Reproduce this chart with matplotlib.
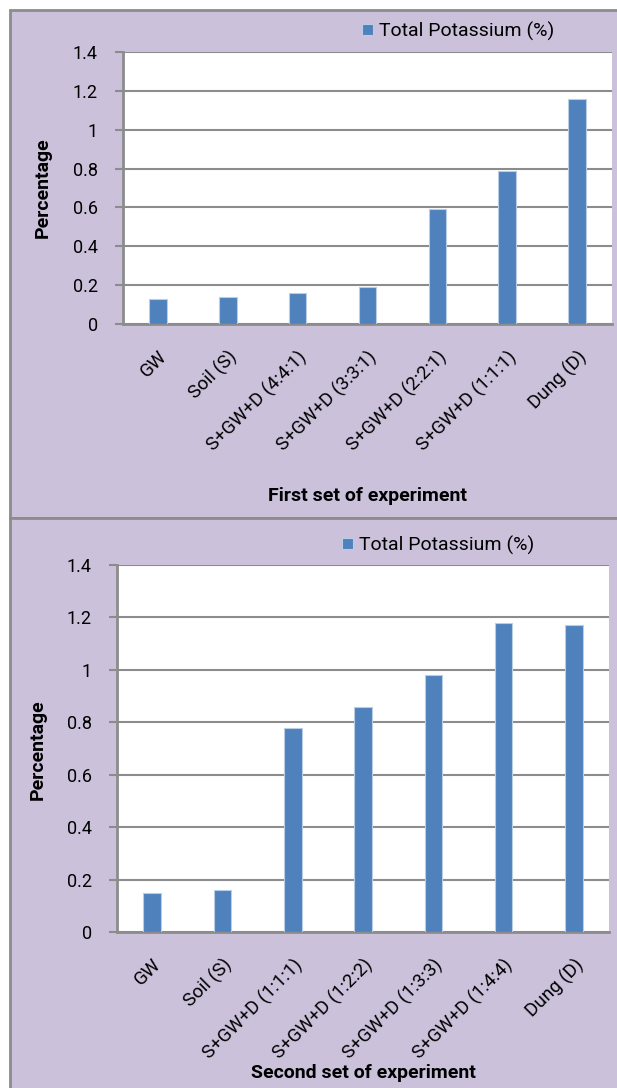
import matplotlib
matplotlib.use('Agg')
import matplotlib.pyplot as plt
from matplotlib.patches import Rectangle

plt.rcParams['font.family'] = ['Roboto', 'DejaVu Sans']

# данные первого и второго набора эксперимента
labels_first = ['GW', 'Soil (S)', 'S+GW+D (4:4:1)', 'S+GW+D (3:3:1)',
                'S+GW+D (2:2:1)', 'S+GW+D (1:1:1)', 'Dung (D)']
potassium_first = [0.13, 0.14, 0.16, 0.19, 0.59, 0.79, 1.16]

labels_second = ['GW', 'Soil (S)', 'S+GW+D (1:1:1)', 'S+GW+D (1:2:2)',
                 'S+GW+D (1:3:3)', 'S+GW+D (1:4:4)', 'Dung (D)']
potassium_second = [0.15, 0.16, 0.78, 0.86, 0.98, 1.18, 1.17]

yticks = [0, 0.2, 0.4, 0.6, 0.8, 1, 1.2, 1.4]
ytick_labels = ['0', '0.2', '0.4', '0.6', '0.8', '1', '1.2', '1.4']

W, H = 617, 1088
BG = '#cbc1db'
GREY = '#8c8c8c'
BAR = '#4f81bd'

fig = plt.figure(figsize=(W / 100, H / 100), dpi=100)


def px_box(left, top, right, bottom):
    """Прямоугольник в пикселях -> координаты фигуры"""
    return [left / W, 1 - bottom / H, (right - left) / W, (bottom - top) / H]


# фоновые панели
for top, bottom in [(10, 518), (518, 1095)]:
    l, b, w, h = px_box(10, top, 625, bottom)
    fig.patches.append(Rectangle((l, b), w, h, transform=fig.transFigure,
                                 facecolor=BG, edgecolor=GREY, linewidth=2,
                                 zorder=-1))


def draw_panel(box, labels, values, xlabel, legend_xy, ylabel_xy, xlabel_y):
    ax = fig.add_axes(px_box(*box))
    ax.set_zorder(2)
    x = range(len(labels))
    ax.bar(x, values, width=0.25, color=BAR, edgecolor='#b9cde5',
           linewidth=0.8, zorder=3, label='Total Potassium (%)')
    ax.set_xlim(-0.5, len(labels) - 0.5)
    ax.set_ylim(0, 1.4)
    ax.set_yticks(yticks)
    ax.set_yticklabels(ytick_labels, fontsize=13)
    ax.set_xticks(list(x))
    ax.set_xticklabels(labels, rotation=45, ha='right', va='top',
                       rotation_mode='anchor', fontsize=13.5)
    ax.tick_params(axis='x', length=0, pad=17)
    ax.tick_params(axis='y', length=6, width=1.5, color=GREY, pad=12)
    ax.grid(axis='y', color=GREY, linewidth=1.5, zorder=1)
    for side in ['top', 'right']:
        ax.spines[side].set_visible(False)
    for side in ['left', 'bottom']:
        ax.spines[side].set_color(GREY)
        ax.spines[side].set_linewidth(2)
    ax.set_facecolor('white')

    fig.legend(handles=ax.patches[:1], labels=['Total Potassium (%)'],
               loc='center left',
               bbox_to_anchor=(legend_xy[0] / W, 1 - legend_xy[1] / H),
               frameon=False, fontsize=14, handlelength=0.55,
               handleheight=0.55, handletextpad=0.3, borderpad=0,
               borderaxespad=0)
    fig.text(ylabel_xy[0] / W, 1 - ylabel_xy[1] / H, 'Percentage',
             rotation=90, ha='center', va='center', fontsize=14,
             fontweight='bold')
    fig.text(xlabel_y[0] / W, 1 - xlabel_y[1] / H, xlabel,
             ha='center', va='center', fontsize=14, fontweight='bold')
    return ax


draw_panel((123, 52, 612, 324), labels_first, potassium_first,
           'First set of experiment', (362, 31), (43, 188), (367, 496))
draw_panel((117, 565, 609, 932), labels_second, potassium_second,
           'Second set of experiment', (342, 545), (38, 750), (363, 1073))

fig.savefig('out.png', dpi=100)
